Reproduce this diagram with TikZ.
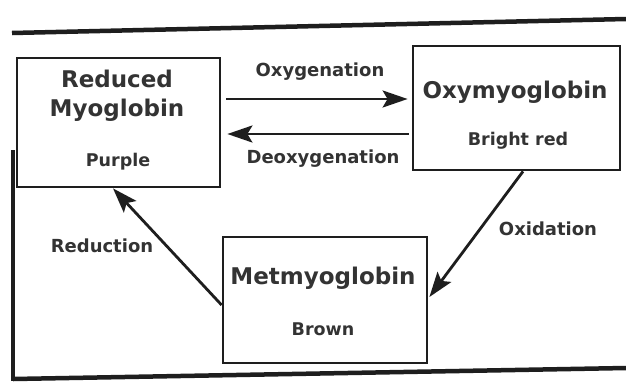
\documentclass[tikz,border=0pt]{standalone}
\usepackage{fontspec}
\setmainfont{DejaVu Sans}
\usetikzlibrary{arrows.meta}
\definecolor{ink}{HTML}{1E1E1E}
\definecolor{txt}{HTML}{333333}
\begin{document}
\begin{tikzpicture}[x=1pt,y=-1pt,
  box/.style={draw=ink,line width=2.8pt,minimum width=#1,inner sep=0pt},
  title/.style={text=txt,font=\bfseries\fontsize{23}{25}\selectfont,inner sep=0pt},
  sub/.style={text=txt,font=\bfseries\fontsize{17.5}{19}\selectfont,inner sep=0pt},
  lab/.style={text=txt,font=\bfseries\fontsize{18}{20}\selectfont,inner sep=0pt},
  arr/.style={draw=ink,line width=2.8pt,-{Stealth[length=25pt,width=17pt,inset=5pt]}},
  frame/.style={draw=ink,line width=4.5pt}]
\useasboundingbox (0,0) rectangle (626,381);
\fill[white] (0,0) rectangle (626,381);
% page frame
\coordinate (ftl) at (12,33);
\coordinate (ftr) at (626,19);
\coordinate (flt) at (13,150);
\coordinate (flb) at (13,381);
\coordinate (fbl) at (13,379);
\coordinate (fbr) at (626,368);
\draw[frame] (ftl) -- (ftr);
\draw[frame] (flt) -- (flb);
\draw[frame] (fbl) -- (fbr);
% boxes
\node[box=203pt,minimum height=129pt] (red) at (118.5,122.5) {};
\node[box=207pt,minimum height=124pt] (oxy) at (516.5,108) {};
\node[box=204pt,minimum height=126pt] (met) at (325,300) {};
% box texts
\node[title] (redt1) at (117,79) {Reduced};
\node[title] (redt2) at (117,110) {Myoglobin};
\node[sub] (reds) at (118,162) {Purple};
\node[title] (oxyt) at (515,92) {Oxymyoglobin};
\node[sub] (oxys) at (518,141) {Bright red};
\node[title] (mett) at (323,278) {Metmyoglobin};
\node[sub] (mets) at (323,329) {Brown};
% connectors
\draw[arr] ([xshift=5pt,yshift=23.5pt]red.east) -- ([xshift=-4pt,yshift=9pt]oxy.west);
\draw[arr] ([xshift=-3pt,yshift=-26pt]oxy.west) -- ([xshift=6pt,yshift=-11.5pt]red.east);
\draw[arr] ([yshift=-5pt]met.west) -- ([xshift=-5.5pt]red.south);
\draw[arr] ([xshift=6.5pt]oxy.south) -- ([xshift=1pt,yshift=3pt]met.east);
% labels
\node[lab] (lox) at (320,72) {Oxygenation};
\node[lab] (ldeox) at (323,159) {Deoxygenation};
\node[lab] (lred) at (102,246) {Reduction};
\node[lab] (loxid) at (548,229) {Oxidation};
\end{tikzpicture}
\end{document}
